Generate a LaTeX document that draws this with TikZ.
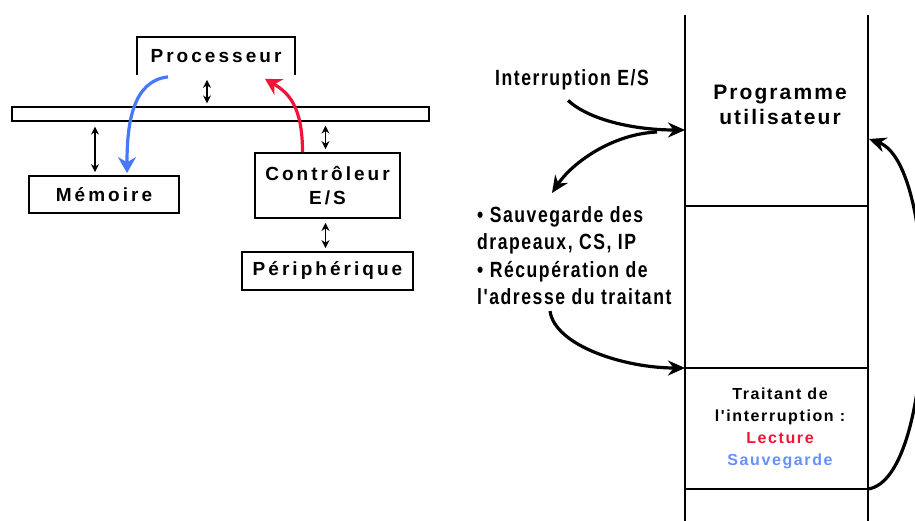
\documentclass[tikz,border=0pt]{standalone}
\usepackage{fontspec}
\setmainfont{Liberation Sans}
\newfontfamily\boxfont[LetterSpace=16]{Liberation Sans}
\newfontfamily\colfont[LetterSpace=10]{Liberation Sans}
\newfontfamily\notefont[FakeStretch=0.8,LetterSpace=7]{Liberation Sans}
\usetikzlibrary{arrows.meta,calc}
\definecolor{rwred}{RGB}{240,20,55}
\definecolor{rwblue}{RGB}{70,120,250}
\definecolor{txblue}{RGB}{100,145,255}
\begin{document}
\begin{tikzpicture}[x=1pt,y=-1pt,
  box/.style={draw, line width=1.8pt, inner sep=0pt, align=center,
    font=\boxfont\bfseries\fontsize{19}{24}\selectfont},
  dbl/.style={{Stealth[length=8pt,width=8pt]}-{Stealth[length=8pt,width=8pt]}, line width=1.5pt},
  rwarrow/.style={-{Stealth[length=16pt,width=18pt]}, line width=3.2pt},
  flow/.style={line width=3.2pt, -{Stealth[length=17pt,width=15pt]}},
  col/.style={line width=1.3pt},
  note/.style={font=\notefont\bfseries\fontsize{22}{27.5}\selectfont, inner sep=0pt},
]
\useasboundingbox (0,0) rectangle (915,521);

% --- Bus architecture ---
\node[box, draw=none, minimum width=156pt, minimum height=36pt] (proc) at (216,56) {Processeur};
\draw[line width=1.8pt] (proc.south west) -- (proc.north west) -- (proc.north east) -- (proc.south east);
\node[draw, line width=1.2pt, minimum width=417pt, minimum height=14pt, inner sep=0pt] (bus) at (220.5,114) {};
\node[box, minimum width=150pt, minimum height=37pt] (mem) at (104,194.5) {Mémoire};
\node[box, minimum width=145pt, minimum height=65pt] (ctrl) at (327.5,185.5) {Contrôleur\\E/S};
\node[box, minimum width=171pt, minimum height=38pt] (peri) at (327.5,271) {Périphérique};

\draw[dbl] ($(proc.south)+(-9,5)$) -- ($(proc.south |- bus.north)+(-9,-3)$);
\draw[dbl] ($(mem.north |- bus.south)+(-9,5)$) -- ($(mem.north)+(-9,-3)$);
\draw[dbl] ($(ctrl.north |- bus.south)+(-2,4)$) -- ($(ctrl.north)+(-2,-3)$);
\draw[dbl] ($(ctrl.south)+(-2,4)$) -- ($(peri.north)+(-2,-3)$);

% memory write (blue) and controller read (red)
\draw[rwarrow, rwblue] ($(proc.south)+(-48,2)$) .. controls +(-36,4) and +(0,-48) .. ($(mem.north)+(23,-2)$);
\draw[rwarrow, rwred] ($(ctrl.north)+(-25,0)$) .. controls +(0,-45) and +(24,14) .. ($(proc.south)+(49,4)$);

% --- Program memory column ---
\coordinate (cTL) at (685,15);
\coordinate (cTR) at (868,15);
\coordinate (cBL) at (685,521);
\coordinate (cBR) at (868,521);
\draw[col] (cTL) -- (cBL);
\draw[col] (cTR) -- (cBR);
\draw[col] (685,206) coordinate (s1L) -- (868,206) coordinate (s1R);
\draw[col] (685,368) coordinate (s2L) -- (868,368) coordinate (s2R);
\draw[col] (685,489) coordinate (s3L) -- (868,489) coordinate (s3R);
\coordinate (irqIn) at (685,130);
\coordinate (retIn) at (869,139);

\node[font=\colfont\bfseries\fontsize{21}{25}\selectfont, align=center] (prog) at (780,105) {Programme\\utilisateur};
\node[font=\colfont\bfseries\fontsize{16}{22}\selectfont, align=center] (isr) at (780,428)
  {Traitant de\\l'interruption :\\\textcolor{rwred}{Lecture}\\\textcolor{txblue}{Sauvegarde}};

% --- Interrupt sequence ---
\node[note] (irq) at (572,80) {Interruption E/S};
\node[note, anchor=north west, align=left] (info) at (477,206)
  {• Sauvegarde des\\drapeaux, CS, IP\\• Récupération de\\l'adresse du traitant};

\draw[flow] ($(irq.south)+(-4,10)$) .. controls +(22,20) and +(-50,0) .. (irqIn);
\draw[flow] ($(irqIn)+(-28,2)$) .. controls +(-45,2) and +(20,-30) .. ($(info.north west)+(75,-13)$);
\draw[flow] ($(info.south west)+(73,6)$) .. controls +(5,35) and +(-60,0) .. (s2L);
\draw[flow] (s3R) .. controls +(70,-10) and +(72,26) .. (retIn);
\end{tikzpicture}
\end{document}
